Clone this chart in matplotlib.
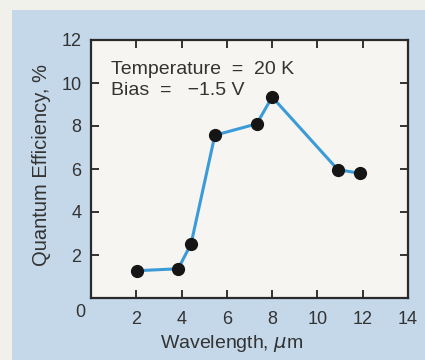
import matplotlib
matplotlib.use('Agg')
import matplotlib.pyplot as plt
from matplotlib.patches import Rectangle

# values
wavelength = [2.05, 3.85, 4.42, 5.47, 7.32, 8.0, 10.9, 11.88]
efficiency = [1.27, 1.36, 2.52, 7.57, 8.1, 9.35, 5.97, 5.8]
xticks = [2, 4, 6, 8, 10, 12, 14]
yticks = [2, 4, 6, 8, 10, 12]

plt.rcParams['font.family'] = ['Liberation Sans', 'DejaVu Sans']
ink = '#333333'

fig = plt.figure(figsize=(4.25, 3.6), dpi=100)
fig.patch.set_facecolor('#f1f1ec')
# blue panel behind the chart
fig.patches.append(Rectangle((12 / 425, 0), 1, 1 - 10 / 360,
                             transform=fig.transFigure, facecolor='#c4d8e9',
                             edgecolor='none', zorder=-5))

ax = fig.add_axes([91 / 425, 62 / 360, 317 / 425, 258 / 360])
ax.set_facecolor('#f6f5f1')

ax.plot(wavelength, efficiency, color='#3b9bd8', linewidth=2.2, zorder=2)
ax.plot(wavelength, efficiency, 'o', color='#151515', markersize=8.5, zorder=3)

ax.set_xlim(0, 14)
ax.set_ylim(0, 12)
ax.set_xticks(xticks)
ax.set_yticks(yticks)
ax.tick_params(direction='in', length=6, width=1.4, color=ink,
               labelsize=13, labelcolor=ink, top=True, right=True)
ax.tick_params(axis='x', pad=9)
ax.tick_params(axis='y', pad=7)
for s in ax.spines.values():
    s.set_linewidth(1.6)
    s.set_color('#2a2a2a')

# shared origin label
ax.text(-0.035, -0.058, '0', transform=ax.transAxes, ha='center', va='center',
        fontsize=13, color=ink)

ax.set_xlabel('Wavelength, $\\mu$m', fontsize=14, color=ink)
ax.xaxis.set_label_coords(0.445, -0.135)
ax.set_ylabel('Quantum Efficiency, %', fontsize=14.5, color=ink)
ax.yaxis.set_label_coords(-0.125, 0.515)

ax.text(0.063, 0.917, 'Temperature  =  20 K\nBias  =   \u22121.5 V',
        transform=ax.transAxes, ha='left', va='top', fontsize=14,
        color=ink, linespacing=1.3)

fig.savefig('out.png', dpi=100, facecolor=fig.get_facecolor())
